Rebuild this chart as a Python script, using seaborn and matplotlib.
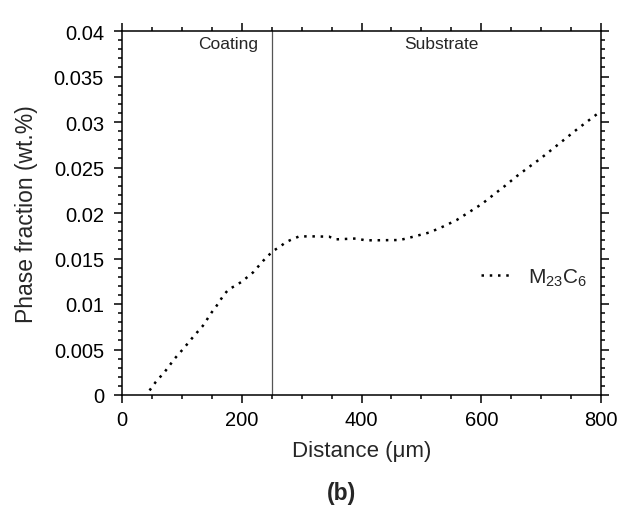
import matplotlib
matplotlib.use("Agg")
import matplotlib.pyplot as plt
from matplotlib.ticker import MultipleLocator
import seaborn as sns
import pandas as pd

# ---- data ----
distance = [46, 56, 72, 88, 104, 119, 135, 143, 150, 158, 170, 178, 189, 200,
            219, 236, 244, 253, 264, 273, 285, 296, 320, 346, 356, 392, 406,
            420, 464, 478, 514, 537, 559, 581, 601, 620, 640, 659, 679, 698,
            726, 760, 796, 800]
m23c6 = [0.0005, 0.0014, 0.0026, 0.0040, 0.0052, 0.0064, 0.0076, 0.0084,
         0.0091, 0.0098, 0.0110, 0.0116, 0.0120, 0.01245, 0.01348, 0.01476,
         0.0153, 0.01586, 0.0163, 0.01677, 0.01714, 0.01743, 0.01743, 0.0174,
         0.0171, 0.0172, 0.0170, 0.0170, 0.01703, 0.01725, 0.01787, 0.01853,
         0.01923, 0.02015, 0.02099, 0.02198, 0.0230, 0.02403, 0.02502,
         0.02593, 0.0274, 0.0292, 0.0310, 0.0312]
series_label = "M$_{23}$C$_6$"
xticks = [0, 200, 400, 600, 800]
xticklabels = ["0", "200", "400", "600", "800"]
yticks = [0, 0.005, 0.01, 0.015, 0.02, 0.025, 0.03, 0.035, 0.04]
yticklabels = ["0", "0.005", "0.01", "0.015", "0.02", "0.025", "0.03", "0.035", "0.04"]
interface = 250
region_labels = ["Coating", "Substrate"]
region_x = [177, 534]
region_y = 0.0386

sns.set_theme(style="ticks")
plt.rcParams["font.family"] = ["Liberation Sans", "DejaVu Sans"]
plt.rcParams["mathtext.default"] = "regular"

df = pd.DataFrame({"Distance": distance, "Fraction": m23c6})

fig = plt.figure(figsize=(6.2, 5.06), dpi=100)
ax = fig.add_axes([122 / 620, 110 / 506, 479 / 620, 364 / 506])

sns.lineplot(data=df, x="Distance", y="Fraction", ax=ax, color="black",
             lw=1.8, linestyle=(0, (1, 2.3)), label=series_label)

ax.axvline(interface, color="#555555", lw=0.9)
for t, xx in zip(region_labels, region_x):
    ax.text(xx, region_y, t, ha="center", va="center", fontsize=12.5)

ax.set_xlim(0, 800)
ax.set_ylim(0, 0.04)
ax.set_xticks(xticks)
ax.set_xticklabels(xticklabels)
ax.set_yticks(yticks)
ax.set_yticklabels(yticklabels)
ax.xaxis.set_minor_locator(MultipleLocator(50))
ax.yaxis.set_minor_locator(MultipleLocator(0.001))

ax.tick_params(which="both", direction="out", top=True, right=True,
               colors="black", labelsize=14.5, width=1.1)
ax.tick_params(which="major", length=6)
ax.tick_params(which="minor", length=3)
ax.tick_params(axis="x", which="major", pad=5)
ax.tick_params(axis="y", which="major", pad=7)
for s in ax.spines.values():
    s.set_visible(True)
    s.set_linewidth(1.1)
    s.set_color("black")

ax.set_xlabel("Distance (\u03bcm)", fontsize=16, labelpad=8)
ax.set_ylabel("Phase fraction (wt.%)", fontsize=16.5, labelpad=11)

leg = ax.legend(loc="center left", bbox_to_anchor=(0.71, 0.324), frameon=False,
                fontsize=15, handlelength=1.5, handletextpad=0.75)

fig.text(341 / 620, 1 - 494 / 506, "(b)", ha="center", va="center",
         fontsize=16.5, fontweight="bold")

fig.savefig("out.png", dpi=100, facecolor="white")
